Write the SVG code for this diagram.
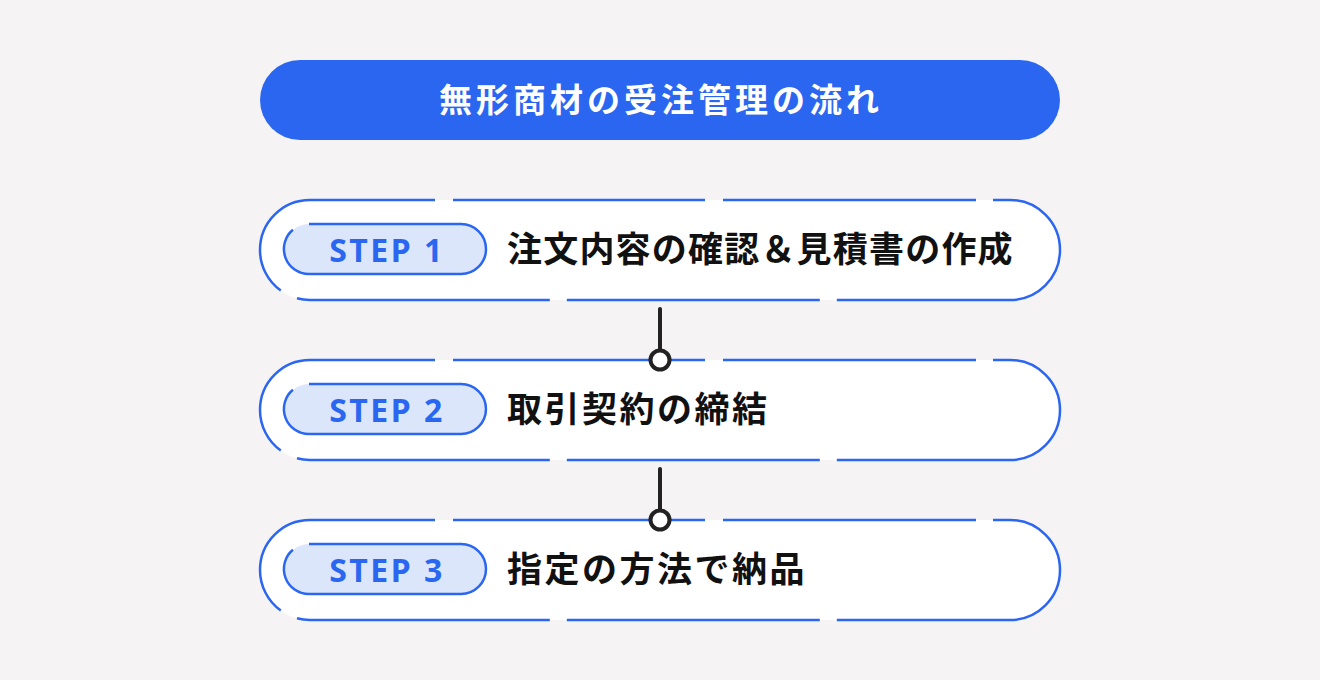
<svg xmlns="http://www.w3.org/2000/svg" width="1320" height="680" viewBox="0 0 1320 680">
  <defs>
    <style>
      .bg { fill: #F5F3F4; }
      .title-bg { fill: #2B66F0; }
      .title { font-family: "Noto Sans CJK JP", "Noto Sans", sans-serif; font-weight: 700; font-size: 33px; fill: #FFFFFF; letter-spacing: 4px; }
      .box-fill { fill: #FFFFFF; }
      .box-line { fill: none; stroke: #2B66F0; stroke-width: 2.5; stroke-dasharray: 125 18 252 18 253 17 347 17 253 17 253 18 130; }
      .pill-fill { fill: #DCE6FB; }
      .pill-line { fill: none; stroke: #2B66F0; stroke-width: 2.5; }
      .step { font-family: "Noto Sans", "Open Sans", sans-serif; font-weight: 700; font-size: 32px; fill: #2B66F0; letter-spacing: 2.5px; }
      .label { font-family: "Noto Sans CJK JP", "Noto Sans", sans-serif; font-weight: 700; font-size: 35px; fill: #111111; letter-spacing: 2.5px; }
      .conn-line { stroke: #222222; stroke-width: 4; stroke-linecap: round; fill: none; }
      .conn-dot { fill: #FFFFFF; stroke: #222222; stroke-width: 4; }
    </style>
  </defs>
  <rect class="bg" x="0" y="0" width="1320" height="680"/>

  <g id="title">
    <rect class="title-bg" x="260" y="60" width="800" height="80" rx="40"/>
    <text class="title" x="439" y="112">無形商材の受注管理の流れ</text>
  </g>

  <g id="step1">
    <rect class="box-fill" x="260" y="200" width="800" height="100" rx="50"/>
    <path class="box-line" d="M310,200 H1010 A50,50 0 0 1 1010,300 H310 A50,50 0 0 1 310,200 Z"/>
    <rect class="pill-fill" x="284" y="224" width="202" height="50" rx="25"/>
    <path class="pill-line" d="M309,224 H461 A25,25 0 0 1 461,274 H309 A25,25 0 0 1 292.9,229.8"/>
    <text class="step" x="387" y="262" text-anchor="middle">STEP 1</text>
    <text class="label" x="507" y="262" style="letter-spacing:1.2px">注文内容の確認＆見積書の作成</text>
  </g>

  <g id="step2">
    <rect class="box-fill" x="260" y="360" width="800" height="100" rx="50"/>
    <path class="box-line" d="M310,360 H1010 A50,50 0 0 1 1010,460 H310 A50,50 0 0 1 310,360 Z"/>
    <rect class="pill-fill" x="284" y="384" width="202" height="50" rx="25"/>
    <path class="pill-line" d="M309,384 H461 A25,25 0 0 1 461,434 H309 A25,25 0 0 1 292.9,389.8"/>
    <text class="step" x="387" y="422" text-anchor="middle">STEP 2</text>
    <text class="label" x="507" y="422">取引契約の締結</text>
  </g>

  <g id="step3">
    <rect class="box-fill" x="260" y="520" width="800" height="100" rx="50"/>
    <path class="box-line" d="M310,520 H1010 A50,50 0 0 1 1010,620 H310 A50,50 0 0 1 310,520 Z"/>
    <rect class="pill-fill" x="284" y="544" width="202" height="50" rx="25"/>
    <path class="pill-line" d="M309,544 H461 A25,25 0 0 1 461,594 H309 A25,25 0 0 1 292.9,549.8"/>
    <text class="step" x="387" y="582" text-anchor="middle">STEP 3</text>
    <text class="label" x="507" y="582">指定の方法で納品</text>
  </g>

  <g id="connectors">
    <line class="conn-line" x1="660" y1="309" x2="660" y2="350"/>
    <circle class="conn-dot" cx="660" cy="360" r="9.5"/>
    <line class="conn-line" x1="660" y1="469" x2="660" y2="510"/>
    <circle class="conn-dot" cx="660" cy="520" r="9.5"/>
  </g>
</svg>
